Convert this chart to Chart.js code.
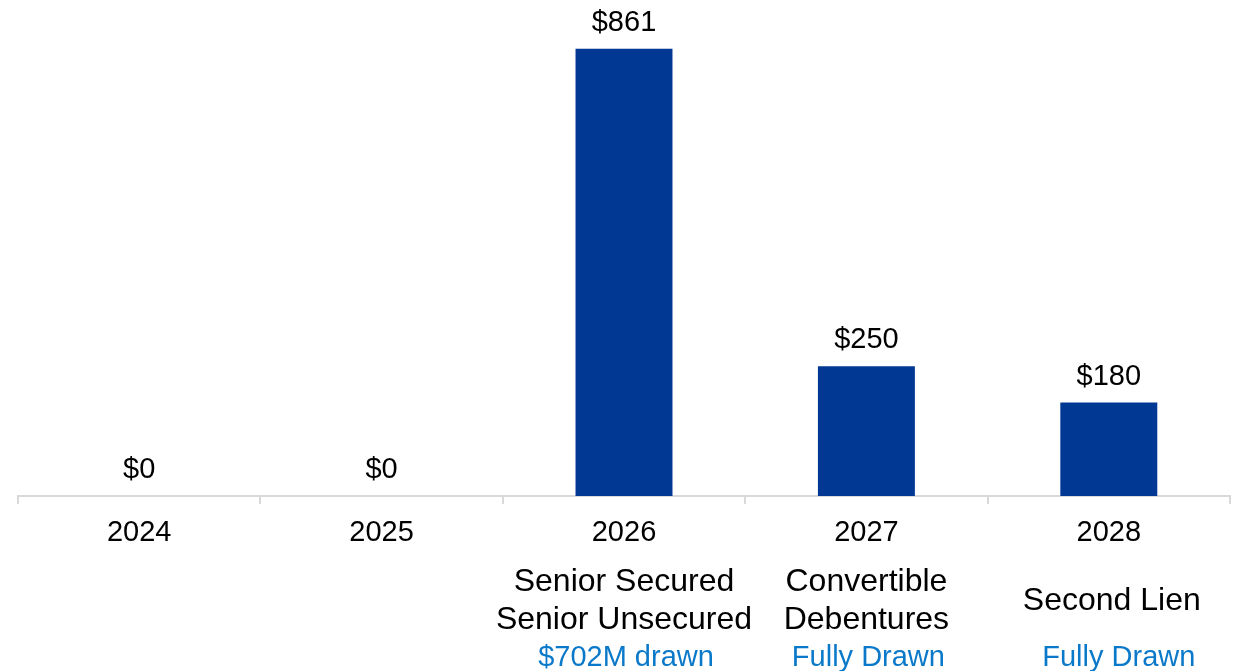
<!DOCTYPE html>
<html>
<head>
    <title>Debt Maturities</title>
    <script src="https://cdn.jsdelivr.net/npm/chart.js"></script>
    <style>
        html, body {
            margin: 0;
            padding: 0;
            background: #ffffff;
        }
        #wrap {
            width: 1238px;
            height: 671px;
        }
    </style>
</head>
<body>
    <div id="wrap"><canvas id="maturityChart"></canvas></div>

    <script>
        const years = ['2024', '2025', '2026', '2027', '2028'];
        const amounts = [0, 0, 861, 250, 180];
        const valueLabels = ['$0', '$0', '$861', '$250', '$180'];
        const facilityLabels = [
            [],
            [],
            ['Senior Secured', 'Senior Unsecured'],
            ['Convertible', 'Debentures'],
            ['Second Lien']
        ];
        const drawnLabels = ['', '', '$702M drawn', 'Fully Drawn', 'Fully Drawn'];

        const FONT = '29px "Liberation Sans", Arial, sans-serif';
        const BIG_FONT = '32px "Liberation Sans", Arial, sans-serif';

        // 막대 위 값 + 아래 카테고리 텍스트
        const labelPlugin = {
            id: 'labelPlugin',
            afterDatasetsDraw(chart) {
                const ctx = chart.ctx;
                const meta = chart.getDatasetMeta(0);
                const xScale = chart.scales.x;
                ctx.save();
                ctx.textAlign = 'center';
                ctx.textBaseline = 'middle';

                meta.data.forEach((bar, i) => {
                    ctx.font = FONT;
                    ctx.fillStyle = '#000000';
                    ctx.fillText(valueLabels[i], bar.x, bar.y - 26);
                });

                years.forEach((y, i) => {
                    const x = xScale.getPixelForValue(i);
                    ctx.font = FONT;
                    ctx.fillStyle = '#000000';
                    ctx.fillText(y, x, 533);

                    ctx.font = BIG_FONT;
                    const lines = facilityLabels[i];
                    const lh = 38;
                    const start = 601 - (lines.length - 1) * lh / 2;
                    lines.forEach((t, j) => {
                        ctx.fillText(t, x + (i === 4 ? 3 : 0), start + j * lh);
                    });

                    // 마지막 칸은 원본에서 살짝 오른쪽으로 치우쳐 있음
                    ctx.font = FONT;
                    ctx.fillStyle = '#0B79C9';
                    ctx.fillText(drawnLabels[i], x + (i === 4 ? 10 : 2), 658);
                });
                ctx.restore();
            }
        };

        new Chart(document.getElementById('maturityChart'), {
            type: 'bar',
            data: {
                labels: years,
                datasets: [{
                    data: amounts,
                    backgroundColor: '#003893',
                    barPercentage: 0.4,
                    categoryPercentage: 1.0
                }]
            },
            options: {
                responsive: true,
                maintainAspectRatio: false,
                animation: false,
                layout: {
                    padding: { left: 18, right: 8, top: 0, bottom: 167 }
                },
                plugins: {
                    legend: { display: false },
                    tooltip: { enabled: false }
                },
                scales: {
                    x: {
                        grid: {
                            offset: true,
                            drawOnChartArea: false,
                            color: '#d9d9d9',
                            lineWidth: 2,
                            tickLength: 8
                        },
                        border: { color: '#d9d9d9', width: 2 },
                        ticks: { display: false }
                    },
                    y: {
                        display: false,
                        min: 0,
                        max: 955
                    }
                }
            },
            plugins: [labelPlugin]
        });
    </script>
</body>
</html>
